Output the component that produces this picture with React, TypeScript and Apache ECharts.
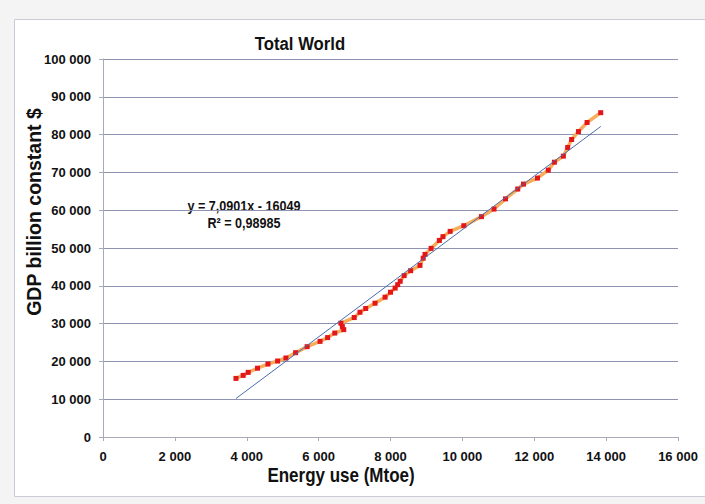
import React, { useEffect, useRef } from "react";
import * as echarts from "echarts";

const energyUse = [
  3700, 3900, 4040, 4300, 4590, 4860, 5090, 5360, 5680, 6040, 6250, 6450,
  6700, 6660, 6620, 6990, 7150, 7310, 7570, 7850, 8000, 8130, 8200, 8270,
  8380, 8560, 8820, 8910, 8960, 9130, 9360, 9460, 9660, 10040, 10530,
  10880, 11200, 11540, 11700, 12090, 12390, 12560, 12810, 12930, 13040,
  13230, 13470, 13850,
];
const gdp = [
  15500, 16300, 17100, 18200, 19300, 20100, 20900, 22300, 23900, 25300,
  26300, 27500, 28400, 29200, 30100, 31600, 33000, 34000, 35400, 37000,
  38300, 39400, 40300, 41200, 42700, 44000, 45400, 47300, 48300, 49900,
  52000, 53000, 54400, 55900, 58300, 60300, 63000, 65600, 66900, 68500,
  70600, 72700, 74300, 76600, 78700, 80800, 83200, 85800,
];
const trendSlope = 7.0901;
const trendIntercept = -16049;
const trendX = [3700, 13850];
const equationLines = ["y = 7,0901x - 16049", "R² = 0,98985"];
const chartTitle = "Total World";
const xAxisTitle = "Energy use (Mtoe)";
const yAxisTitle = "GDP billion constant $";

const fmt = (v: number) => {
  const s = String(Math.round(v));
  return s.replace(/\B(?=(\d{3})+(?!\d))/g, " ");
};

const SANS = "'Liberation Sans', Arial, sans-serif";

export default function App() {
  const ref = useRef<HTMLDivElement>(null);
  useEffect(() => {
    if (!ref.current) return;
    const chart = echarts.init(ref.current, null, { renderer: "svg" });
    const points = energyUse.map((x, i) => [x, gdp[i]]);
    const trend = trendX.map((x) => [x, trendSlope * x + trendIntercept]);
    chart.setOption({
      animation: false,
      backgroundColor: "#f4f4f5",
      grid: { left: 103, right: 27, top: 59, bottom: 67 },
      graphic: [
        {
          type: "rect",
          shape: { x: 14.5, y: 19.5, width: 700, height: 477 },
          style: { fill: "#ffffff", stroke: "#c9cbd8", lineWidth: 1 },
          z: -10,
          silent: true,
        },
        {
          type: "text",
          x: 300,
          y: 44,
          scaleX: 0.88,
          style: {
            text: chartTitle,
            font: `bold 19px ${SANS}`,
            fill: "#111",
            align: "center",
            verticalAlign: "middle",
          },
        },
        {
          type: "text",
          x: 341,
          y: 475,
          scaleX: 0.85,
          style: {
            text: xAxisTitle,
            font: `bold 20px ${SANS}`,
            fill: "#111",
            align: "center",
            verticalAlign: "middle",
          },
        },
        {
          type: "text",
          x: 34,
          y: 212,
          rotation: Math.PI / 2,
          style: {
            text: yAxisTitle,
            font: `bold 19.5px ${SANS}`,
            fill: "#111",
            align: "center",
            verticalAlign: "middle",
          },
        },
        {
          type: "text",
          x: 244,
          y: 198,
          scaleX: 0.9,
          style: {
            text: equationLines.join("\n"),
            font: `bold 14px ${SANS}`,
            fill: "#111",
            align: "center",
            lineHeight: 17,
          },
        },
      ],
      xAxis: {
        type: "value",
        min: 0,
        max: 16000,
        interval: 2000,
        axisLine: { show: true, lineStyle: { color: "#a8aab8", width: 1 } },
        axisTick: { show: true, length: 4, lineStyle: { color: "#a8aab8" } },
        axisLabel: {
          formatter: fmt,
          fontFamily: SANS,
          fontWeight: "bold",
          fontSize: 13,
          color: "#111",
          margin: 13,
        },
        splitLine: { show: false },
      },
      yAxis: {
        type: "value",
        min: 0,
        max: 100000,
        interval: 10000,
        axisLine: { show: true, lineStyle: { color: "#a8aab8", width: 1 } },
        axisTick: { show: true, length: 4, lineStyle: { color: "#a8aab8" } },
        axisLabel: {
          formatter: fmt,
          fontFamily: SANS,
          fontWeight: "bold",
          fontSize: 13,
          color: "#111",
          margin: 12,
        },
        splitLine: { show: true, lineStyle: { color: "#8d93b1", width: 1 } },
      },
      series: [
        {
          type: "line",
          data: points,
          symbol: "rect",
          symbolSize: 5,
          itemStyle: { color: "#e3161a" },
          lineStyle: { color: "#f7ad5a", width: 3.5 },
          z: 3,
        },
        {
          type: "line",
          data: trend,
          symbol: "none",
          lineStyle: { color: "#4a6cae", width: 1 },
          z: 4,
        },
      ],
    });
    return () => chart.dispose();
  }, []);
  return (
    <div
      ref={ref}
      style={{ width: 705, height: 504, position: "absolute", left: 0, top: 0 }}
    />
  );
}
